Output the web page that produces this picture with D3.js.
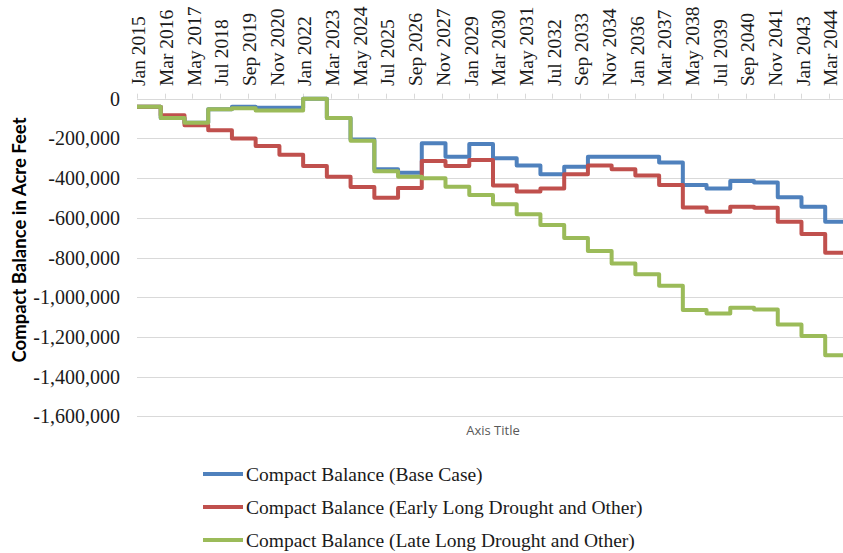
<!DOCTYPE html>
<html>
<head>
<meta charset="utf-8">
<script src="https://cdn.jsdelivr.net/npm/d3@7"></script>
<style>
  html, body { margin: 0; padding: 0; background: #fff; }
  svg { display: block; }
</style>
</head>
<body>
<svg id="chart" width="843" height="553"></svg>
<script>
// ---- data ----
const xTickLabels = ["Jan 2015","Mar 2016","May 2017","Jul 2018","Sep 2019","Nov 2020","Jan 2022","Mar 2023",
  "May 2024","Jul 2025","Sep 2026","Nov 2027","Jan 2029","Mar 2030","May 2031","Jul 2032","Sep 2033",
  "Nov 2034","Jan 2036","Mar 2037","May 2038","Jul 2039","Sep 2040","Nov 2041","Jan 2043","Mar 2044"];
const years = [2015,2016,2017,2018,2019,2020,2021,2022,2023,2024,2025,2026,2027,2028,2029,
  2030,2031,2032,2033,2034,2035,2036,2037,2038,2039,2040,2041,2042,2043,2044];
const baseCase = [-40000,-97000,-121000,-53000,-40000,-46000,-46000,0,-97000,-205000,-355000,-373000,
  -225000,-292000,-228000,-300000,-337000,-381000,-343000,-292000,-292000,-292000,-322000,-435000,
  -452000,-415000,-422000,-497000,-544000,-620000];
const earlyDrought = [-40000,-84000,-134000,-159000,-201000,-238000,-282000,-339000,-393000,-445000,
  -499000,-450000,-314000,-339000,-309000,-437000,-468000,-452000,-380000,-337000,-356000,-387000,
  -435000,-548000,-570000,-544000,-549000,-620000,-682000,-776000];
const lateDrought = [-40000,-97000,-121000,-53000,-48000,-59000,-59000,0,-97000,-212000,-365000,-393000,
  -401000,-443000,-485000,-532000,-582000,-636000,-702000,-767000,-830000,-885000,-942000,-1065000,
  -1082000,-1053000,-1062000,-1137000,-1196000,-1292000];
const seriesNames = ["Compact Balance (Base Case)","Compact Balance (Early Long Drought and Other)",
  "Compact Balance (Late Long Drought and Other)"];
const seriesColors = ["#4F81BD","#C0504D","#9BBB59"];
const yTicks = [0,-200000,-400000,-600000,-800000,-1000000,-1200000,-1400000,-1600000];
const xStart = "Jan 2015", xEnd = "Oct 2044";

// ---- layout ----
const svg = d3.select("#chart");
const pLeft = 137, pRight = 843, pTop = 98.7, pBottom = 416.3;
const parse = d3.timeParse("%b %Y");
const x = d3.scaleTime().domain([parse(xStart), parse(xEnd)]).range([pLeft, pRight]);
const y = d3.scaleLinear().domain([0, -1600000]).range([pTop, pBottom]);
const fmt = d3.formatLocale({decimal: ".", thousands: ",", grouping: [3], currency: ["$", ""], minus: "-"}).format(",");

// gridlines
svg.append("g").selectAll("line").data(yTicks).join("line")
  .attr("x1", pLeft).attr("x2", pRight)
  .attr("y1", d => Math.round(y(d)) + 0.5).attr("y2", d => Math.round(y(d)) + 0.5)
  .attr("stroke", "#d9d9d9").attr("stroke-width", 1);

// y tick labels
svg.append("g").selectAll("text").data(yTicks).join("text")
  .attr("x", 120).attr("y", d => y(d)).attr("dy", "0.35em")
  .attr("text-anchor", "end")
  .attr("font-family", "'Liberation Serif', 'Times New Roman', serif")
  .attr("font-size", 20).attr("fill", "#1a1a1a")
  .text(d => fmt(d));

// x axis (top) tick marks & labels
const xTickDates = xTickLabels.map(parse);
const gx = svg.append("g");
gx.selectAll("line").data(xTickDates).join("line")
  .attr("x1", d => Math.round(x(d)) + 0.5).attr("x2", d => Math.round(x(d)) + 0.5)
  .attr("y1", pTop - 5).attr("y2", pTop)
  .attr("stroke", "#d9d9d9");
gx.selectAll("text").data(xTickLabels).join("text")
  .attr("transform", d => `translate(${x(parse(d)) + 1.5},86) rotate(-90)`)
  .attr("dy", "0.35em")
  .attr("text-anchor", "start")
  .attr("font-family", "'Liberation Serif', 'Times New Roman', serif")
  .attr("font-size", 19.5).attr("fill", "#1a1a1a")
  .text(d => d);

// y axis title
svg.append("text")
  .attr("transform", `translate(19.5,240) rotate(-90)`)
  .attr("dy", "0.35em")
  .attr("text-anchor", "middle")
  .attr("font-family", "Lato, 'Open Sans', sans-serif")
  .attr("font-weight", "bold")
  .attr("font-size", 18.5).attr("fill", "#000")
  .text("Compact Balance in Acre Feet");

// x axis title
svg.append("text")
  .attr("x", 493).attr("y", 430).attr("dy", "0.35em")
  .attr("text-anchor", "middle")
  .attr("font-family", "'Open Sans', sans-serif")
  .attr("font-size", 13).attr("fill", "#595959")
  .text("Axis Title");

// series lines
const allSeries = [baseCase, earlyDrought, lateDrought];
const line = d3.line().x(d => x(d.date)).y(d => y(d.value)).curve(d3.curveStepAfter);
allSeries.forEach((vals, i) => {
  const pts = years.map((yr, j) => ({date: new Date(yr, 0, 1), value: vals[j]}));
  pts.push({date: parse(xEnd), value: vals[vals.length - 1]});
  svg.append("path").datum(pts)
    .attr("d", line)
    .attr("fill", "none")
    .attr("stroke", seriesColors[i])
    .attr("stroke-width", 4)
    .attr("stroke-linejoin", "round");
});

// legend
const leg = svg.append("g");
const legY = [474, 507, 540];
seriesNames.forEach((name, i) => {
  leg.append("line").attr("x1", 203).attr("x2", 243)
    .attr("y1", legY[i]).attr("y2", legY[i])
    .attr("stroke", seriesColors[i]).attr("stroke-width", 4);
  leg.append("text").attr("x", 246).attr("y", legY[i]).attr("dy", "0.35em")
    .attr("font-family", "'Liberation Serif', 'Times New Roman', serif")
    .attr("font-size", 19.5).attr("fill", "#1a1a1a")
    .text(name);
});
</script>
</body>
</html>
